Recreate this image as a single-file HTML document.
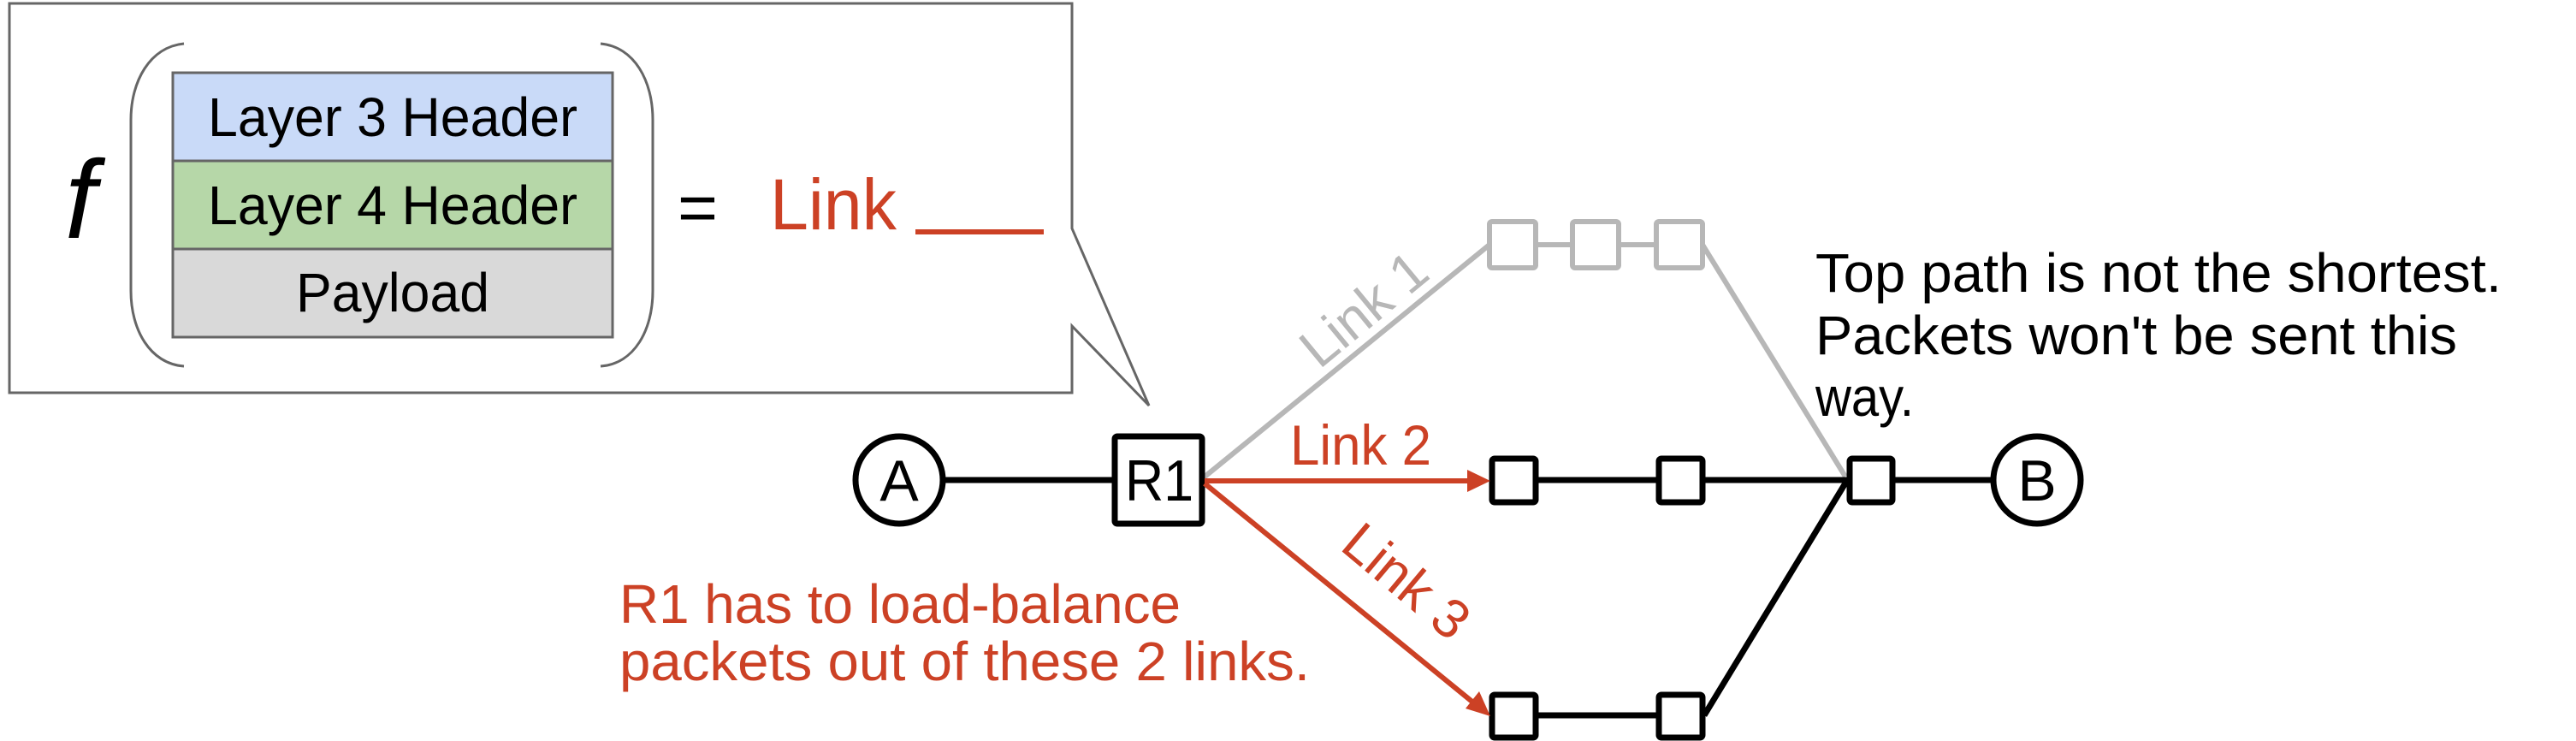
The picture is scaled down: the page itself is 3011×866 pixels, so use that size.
<!DOCTYPE html>
<html><head><meta charset="utf-8"><style>
html,body{margin:0;padding:0;background:#fff;}
svg{display:block;}
text{font-family:"Liberation Sans",sans-serif;}
</style></head><body>
<svg width="3011" height="866" viewBox="0 0 3011 866" xmlns="http://www.w3.org/2000/svg">
<!-- callout -->
<path d="M11,4 L1253,4 L1253,267 L1343,474 L1253,381 L1253,459 L11,459 Z" fill="#fff" stroke="#666" stroke-width="3"/>
<!-- brackets -->
<path d="M215,51 C175,55 153,95 153,140 L153,340 C153,385 175,425 215,428" fill="none" stroke="#666" stroke-width="3"/>
<path d="M702,51 C742,55 763,95 763,140 L763,340 C763,385 742,425 702,428" fill="none" stroke="#666" stroke-width="3"/>
<rect x="202" y="85" width="514" height="103" fill="#c9daf8" stroke="#666" stroke-width="3"/>
<rect x="202" y="188" width="514" height="103" fill="#b6d7a8" stroke="#666" stroke-width="3"/>
<rect x="202" y="291" width="514" height="103" fill="#d9d9d9" stroke="#666" stroke-width="3"/>
<text x="459" y="159" font-size="64" text-anchor="middle" textLength="432" lengthAdjust="spacingAndGlyphs">Layer 3 Header</text>
<text x="459" y="262" font-size="64" text-anchor="middle" textLength="432" lengthAdjust="spacingAndGlyphs">Layer 4 Header</text>
<text x="459" y="364" font-size="64" text-anchor="middle" textLength="226" lengthAdjust="spacingAndGlyphs">Payload</text>
<text x="94" y="278" font-size="130" font-style="italic" text-anchor="middle">f</text>
<text x="792" y="270" font-size="80" textLength="47" lengthAdjust="spacingAndGlyphs">=</text>
<text x="900" y="268" font-size="84" fill="#cc4125" textLength="148" lengthAdjust="spacingAndGlyphs">Link</text>
<line x1="1070" y1="271" x2="1220" y2="271" stroke="#cc4125" stroke-width="6"/>

<!-- gray top path -->
<g stroke="#b7b7b7" stroke-width="6" fill="none">
<line x1="1407" y1="558" x2="1741" y2="286"/>
<line x1="1795" y1="286" x2="1838" y2="286"/>
<line x1="1892" y1="286" x2="1936" y2="286"/>
<line x1="1990" y1="286" x2="2157" y2="557"/>
<rect x="1741" y="259" width="54" height="54" rx="3" fill="#fff"/>
<rect x="1838" y="259" width="54" height="54" rx="3" fill="#fff"/>
<rect x="1936" y="259" width="54" height="54" rx="3" fill="#fff"/>
</g>
<text x="0" y="0" font-size="64" fill="#b7b7b7" text-anchor="middle" transform="translate(1608,378) rotate(-39.5)">Link 1</text>

<!-- black lines -->
<g stroke="#000" stroke-width="7" fill="none">
<line x1="1105" y1="561" x2="1300" y2="561"/>
<line x1="1797" y1="561" x2="2159" y2="561"/>
<line x1="2214" y1="561" x2="2328" y2="561"/>
<line x1="1797" y1="836" x2="1936" y2="836"/>
<line x1="1992" y1="836" x2="2158" y2="563"/>
</g>
<g stroke="#000" stroke-width="7" fill="#fff">
<circle cx="1051" cy="561" r="51"/>
<rect x="1303" y="510" width="102" height="102" rx="3"/>
<rect x="1744" y="536" width="51" height="51" rx="3"/>
<rect x="1939" y="536" width="51" height="51" rx="3"/>
<rect x="2162" y="536" width="50" height="51" rx="3"/>
<circle cx="2381" cy="561" r="51"/>
<rect x="1744" y="812" width="51" height="50" rx="3"/>
<rect x="1939" y="812" width="51" height="50" rx="3"/>
</g>
<text x="1051" y="585" font-size="68" text-anchor="middle">A</text>
<text x="1355" y="585" font-size="68" text-anchor="middle" textLength="80" lengthAdjust="spacingAndGlyphs">R1</text>
<text x="2381" y="585" font-size="68" text-anchor="middle">B</text>

<!-- red arrows -->
<g stroke="#cc4125" stroke-width="6" fill="none">
<line x1="1408" y1="562" x2="1716" y2="562"/>
<line x1="1408" y1="565" x2="1722" y2="821"/>
</g>
<polygon points="1742,562 1715,549 1715,575" fill="#cc4125"/>
<polygon points="1742,837 1713,828 1729,808" fill="#cc4125"/>
<text x="1508" y="543" font-size="66" fill="#cc4125" textLength="165" lengthAdjust="spacingAndGlyphs">Link 2</text>
<text x="0" y="0" font-size="64" fill="#cc4125" text-anchor="middle" transform="translate(1630,696) rotate(40)">Link 3</text>

<!-- notes -->
<g font-size="64">
<text x="2122" y="341" textLength="802" lengthAdjust="spacingAndGlyphs">Top path is not the shortest.</text>
<text x="2122" y="414" textLength="750" lengthAdjust="spacingAndGlyphs">Packets won't be sent this</text>
<text x="2122" y="486" textLength="115" lengthAdjust="spacingAndGlyphs">way.</text>
</g>
<g font-size="64" fill="#cc4125">
<text x="724" y="728" textLength="656" lengthAdjust="spacingAndGlyphs">R1 has to load-balance</text>
<text x="724" y="795" textLength="807" lengthAdjust="spacingAndGlyphs">packets out of these 2 links.</text>
</g>
</svg>
</body></html>
